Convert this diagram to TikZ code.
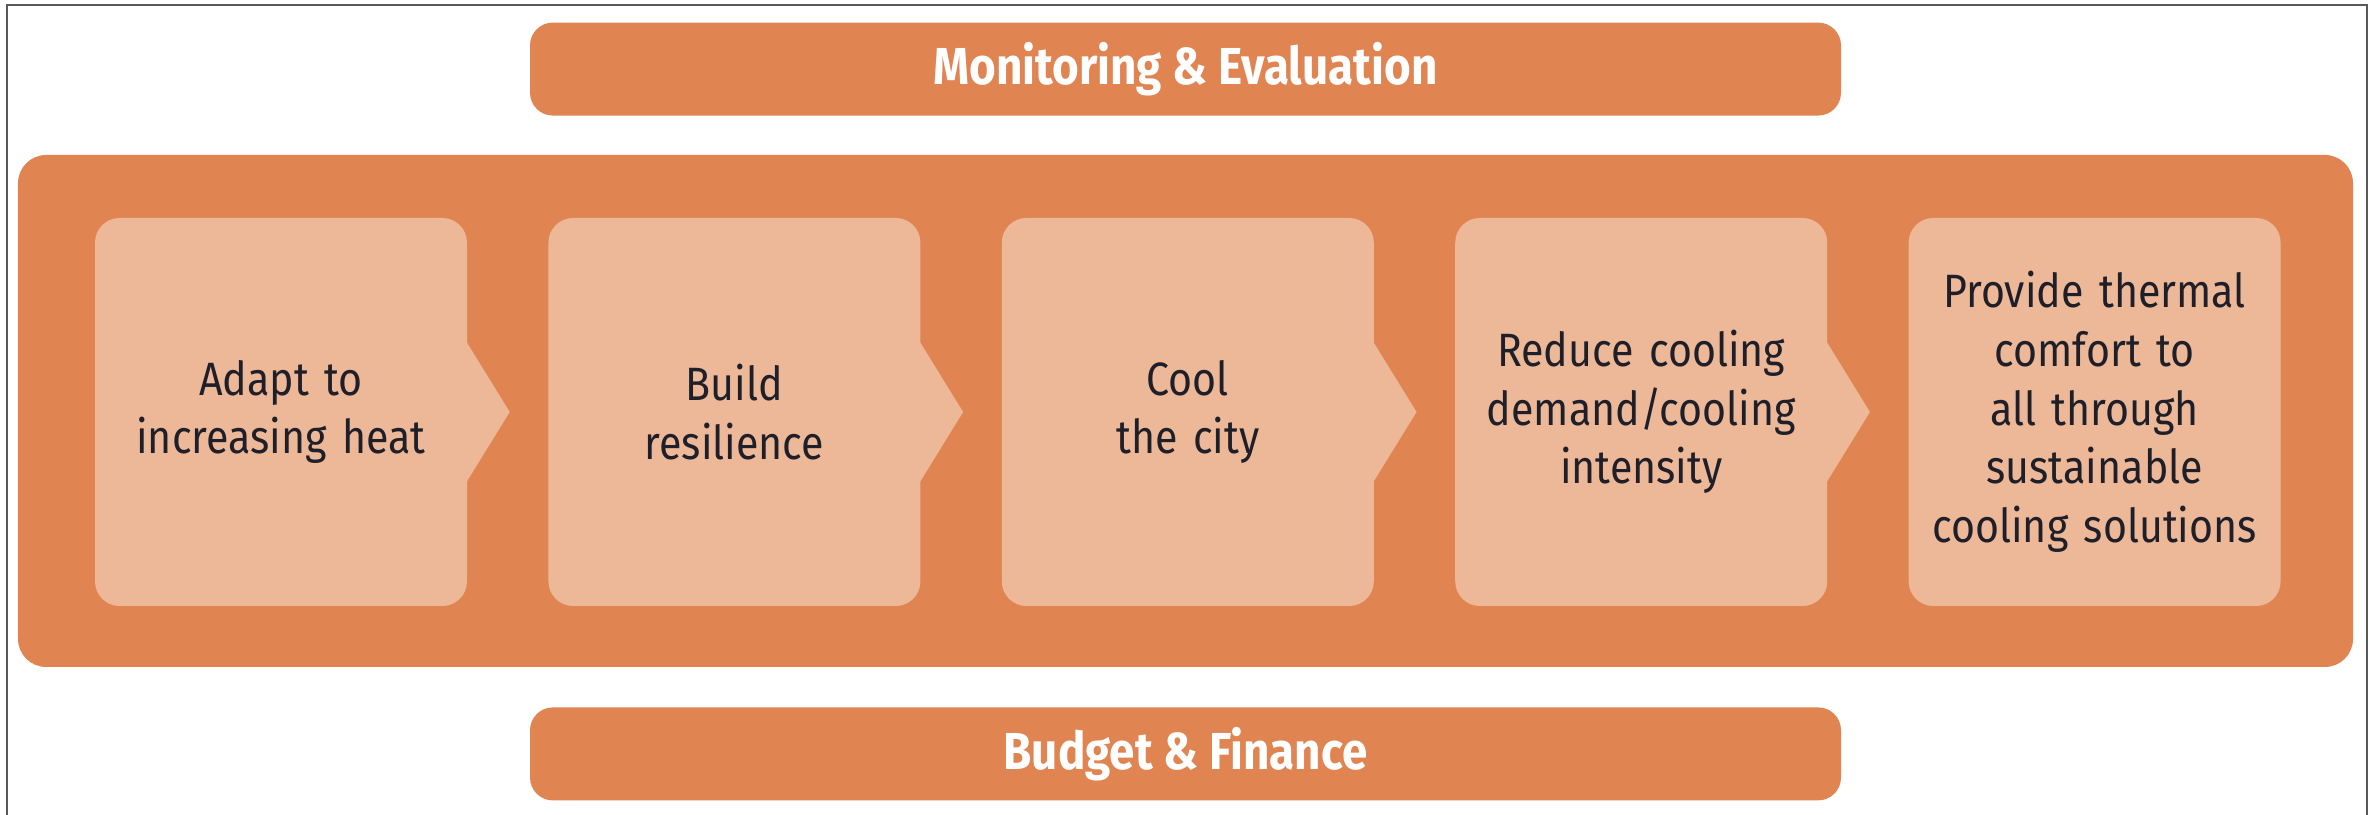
\documentclass[tikz,border=0pt]{standalone}
\usepackage{fontspec}
\setmainfont{Fira Sans}[FakeStretch=0.88]
\usepackage{xcolor}
\usetikzlibrary{positioning}
\definecolor{heatorange}{HTML}{E08452}
\definecolor{heatpeach}{HTML}{EDB898}
\definecolor{heatink}{HTML}{1F1F29}

\begin{document}
\begin{tikzpicture}[
    stage/.style={fill=heatpeach, rounded corners=7pt, minimum width=3.72cm, minimum height=3.88cm, inner sep=0pt, text width=3.66cm, align=center, text=heatink, font=\fontsize{13.3}{16.7}\selectfont},
    banner/.style={fill=heatorange, rounded corners=6.5pt, minimum width=13.11cm, minimum height=0.93cm, inner sep=0pt, text=white, font=\fontsize{14.8}{17}\selectfont\bfseries},
    tab/.style={fill=heatpeach},
]
\useasboundingbox (0,0) rectangle (23.76,8.14);

% frame, open at the bottom
\draw[black!65, line width=0.6pt] (0.07,-0.1) -- (0.07,8.09) -- (23.67,8.09) -- (23.67,-0.1);

% main panel
\node[fill=heatorange, rounded corners=8pt, minimum width=23.35cm, minimum height=5.12cm] (panel) at (11.855,4.03) {};

% banners
\node[banner, above=0.38cm of panel] (monitor) {Monitoring \& Evaluation};
\node[banner, below=0.39cm of panel] (budget) {Budget \& Finance};

% stages
\node[stage] (adapt) at (2.81,4.02) {Adapt to\\increasing heat};
\node[stage, right=0.8cm of adapt] (resilience) {Build\\resilience};
\node[stage, right=0.8cm of resilience] (cool) {Cool\\the city};
\node[stage, right=0.8cm of cool] (reduce) {Reduce cooling\\demand/cooling\\intensity};
\node[stage, right=0.8cm of reduce] (comfort) {Provide thermal\\comfort to\\all through\\sustainable\\cooling solutions};

% arrow tabs between stages
\foreach \s in {adapt,resilience,cool,reduce}
  \fill[tab] ([xshift=-0.03cm, yshift=0.73cm]\s.east) -- ++(0.45,-0.73) -- ++(-0.45,-0.73) -- cycle;

\end{tikzpicture}
\end{document}
